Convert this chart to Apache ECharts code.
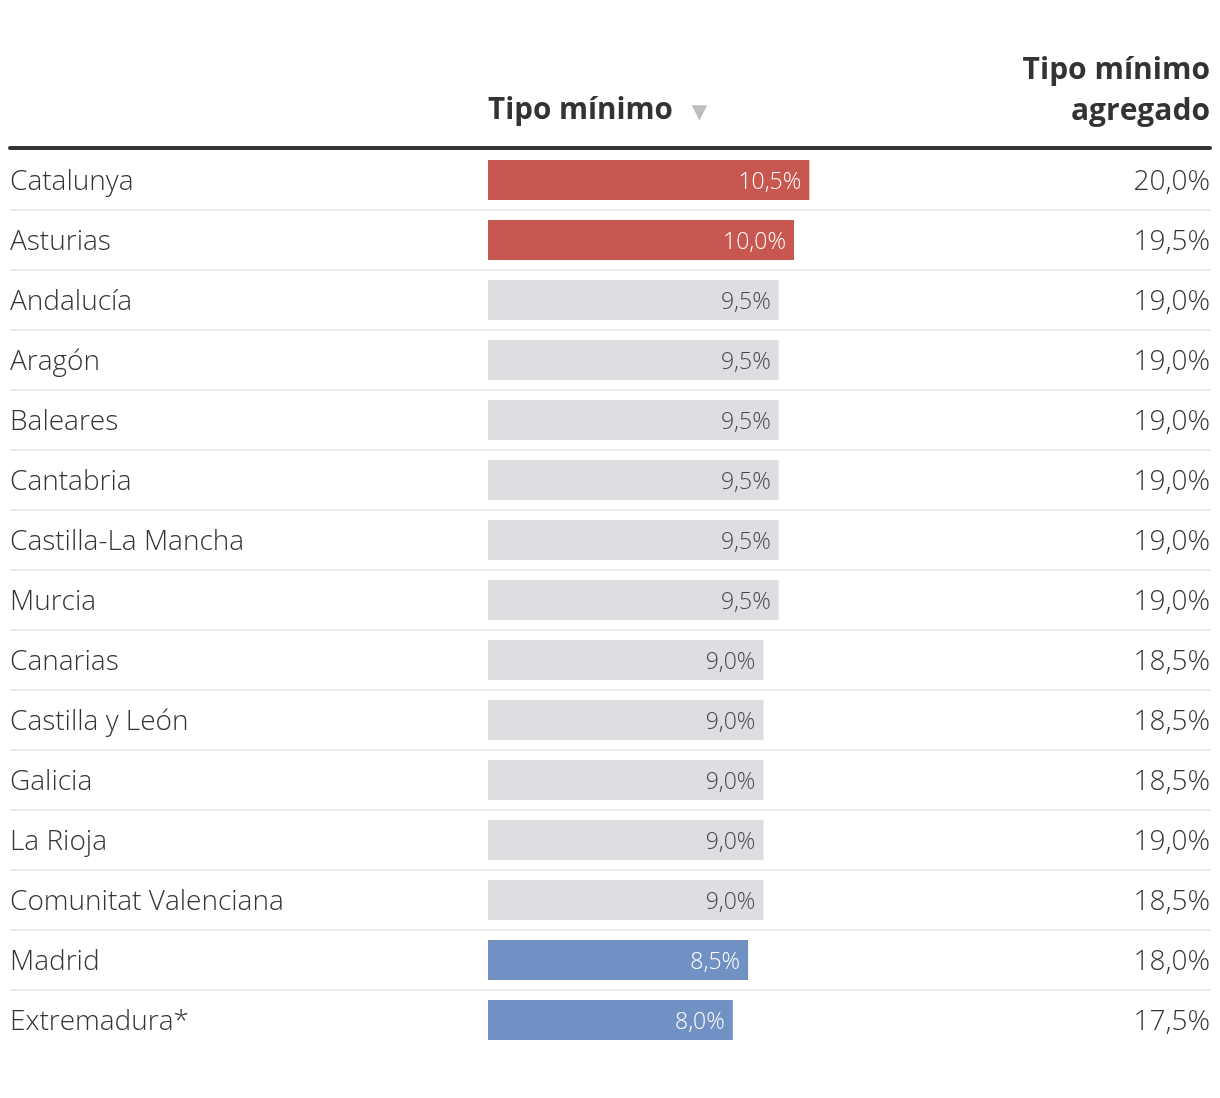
<!DOCTYPE html>
<html>
<head>
<meta charset="utf-8">
<script src="https://cdn.jsdelivr.net/npm/echarts@6/dist/echarts.min.js"></script>
<style>
html,body{margin:0;padding:0;background:#fff;}
#chart{width:1220px;height:1098px;}
</style>
</head>
<body>
<div id="chart"></div>
<script>
const regions = ['Catalunya','Asturias','Andalucía','Aragón','Baleares','Cantabria','Castilla-La Mancha','Murcia','Canarias','Castilla y León','Galicia','La Rioja','Comunitat Valenciana','Madrid','Extremadura*'];
const tipoMinimo = [10.5,10.0,9.5,9.5,9.5,9.5,9.5,9.5,9.0,9.0,9.0,9.0,9.0,8.5,8.0];
const tipoAgregado = [20.0,19.5,19.0,19.0,19.0,19.0,19.0,19.0,18.5,18.5,18.5,19.0,18.5,18.0,17.5];
const groups = ['high','high','mid','mid','mid','mid','mid','mid','mid','mid','mid','mid','mid','low','low'];
const headers = ['Tipo mínimo','Tipo mínimo\nagregado'];

const colors = {high:'#c8584f', mid:'#dfdde2', low:'#7190c4'};
const labelColors = {high:'#ffffff', mid:'#444444', low:'#ffffff'};
const fmt = v => v.toFixed(1).replace('.', ',') + '%';

// scale: 0 at x=488, ~30.6 px per unit, grid spans x 10..1210
const pxPerUnit = 30.6;
const xMin = -(488 - 10) / pxPerUnit;
const xMax = xMin + 1200 / pxPerUnit;

const chart = echarts.init(document.getElementById('chart'), null, {renderer:'canvas'});
chart.setOption({
  animation:false,
  backgroundColor:'#ffffff',
  title:[
    {text: headers[0] + '{tri|▼}', left:488, top:91, padding:0,
     textStyle:{fontFamily:'Open Sans', fontWeight:'bold', fontSize:29.6, color:'#333', lineHeight:40,
       rich:{tri:{fontFamily:'DejaVu Sans', fontSize:20, color:'#bdbdbd', lineHeight:40, padding:[4,0,0,19]}}}},
    {text: headers[1], left:1210, top:50, padding:0, textAlign:'right',
     textStyle:{fontFamily:'Open Sans', fontWeight:'bold', fontSize:30, color:'#333', lineHeight:41, align:'right'}}
  ],
  grid:{left:10, right:10, top:150, height:900, containLabel:false},
  xAxis:{type:'value', position:'top', min:xMin, max:xMax, offset:2,
    axisLine:{show:true, onZero:false, lineStyle:{color:'#333', width:4}},
    axisTick:{show:false}, axisLabel:{show:false}, splitLine:{show:false}},
  yAxis:[
    {type:'category', data:regions, inverse:true, position:'left',
     axisLine:{show:false}, axisTick:{show:false},
     splitLine:{show:true, showMinLine:false, showMaxLine:false, lineStyle:{color:'#ececec', width:2}},
     axisLabel:{margin:0, align:'left', verticalAlign:'top', lineHeight:5, fontFamily:'Open Sans', fontWeight:300, fontSize:28, color:'#333'}},
    {type:'category', data:tipoAgregado.map(fmt), inverse:true, position:'right',
     axisLine:{show:false}, axisTick:{show:false}, splitLine:{show:false},
     axisLabel:{margin:0, align:'right', verticalAlign:'top', lineHeight:5, fontFamily:'Open Sans', fontWeight:300, fontSize:28, color:'#333'}}
  ],
  series:[{
    type:'bar', yAxisIndex:0, barWidth:40,
    data: tipoMinimo.map((v,i)=>({value:v, itemStyle:{color:colors[groups[i]]},
      label:{color:labelColors[groups[i]]}})),
    label:{show:true, position:'insideRight', distance:8, verticalAlign:'top', lineHeight:5, formatter:p=>fmt(p.value),
      fontFamily:'Open Sans', fontWeight:300, fontSize:23}
  }]
});
</script>
</body>
</html>
